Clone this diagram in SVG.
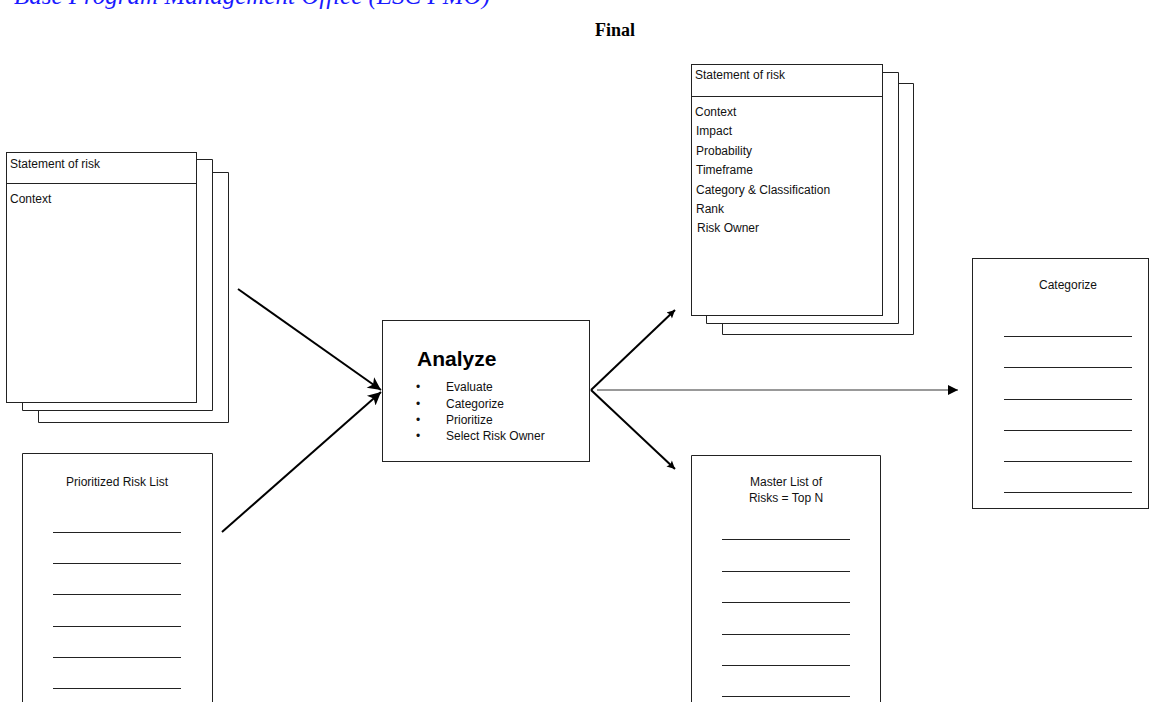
<svg xmlns="http://www.w3.org/2000/svg" width="1150" height="702" viewBox="0 0 1150 702">
  <style>
    .page { fill: #fff; stroke: #222; stroke-width: 1; }
    .rule { stroke: #222; stroke-width: 1; }
    .t { font-family: "Liberation Sans", Arial, sans-serif; font-size: 12px; fill: #111; }
    .mid { text-anchor: middle; }
    .conn { stroke: #000; stroke-width: 2; fill: none; }
    .conn-thin { stroke: #777; stroke-width: 1.5; fill: none; }
  </style>
  <defs>
    <marker id="headBig" viewBox="0 0 10 10" refX="10" refY="5" markerUnits="userSpaceOnUse" markerWidth="17" markerHeight="13" orient="auto">
      <path d="M0,0 L10,5 L0,10 L2.5,5 Z" fill="#000"/>
    </marker>
    <marker id="headSmall" viewBox="0 0 10 10" refX="10" refY="5" markerUnits="userSpaceOnUse" markerWidth="12" markerHeight="8" orient="auto">
      <path d="M0,0 L10,5 L0,10 L2,5 Z" fill="#000"/>
    </marker>
    <marker id="headFlat" viewBox="0 0 10 10" refX="10" refY="5" markerUnits="userSpaceOnUse" markerWidth="12" markerHeight="10" orient="auto">
      <path d="M0,0 L10,5 L0,10 Z" fill="#000"/>
    </marker>
  </defs>

  <rect width="1150" height="702" fill="#fff"/>

  <!-- page header -->
  <g id="header">
    <text x="490" y="4" text-anchor="end" font-family="'Liberation Serif', 'Times New Roman', serif" font-style="italic" font-size="25" fill="#1a1aff">Base Program Management Office (ESC PMO)</text>
    <text x="615" y="36" text-anchor="middle" font-family="'Liberation Serif', 'Times New Roman', serif" font-weight="bold" font-size="18" fill="#000">Final</text>
  </g>

  <!-- statement of risk (input), stacked pages -->
  <g id="risk-statement-in">
    <path class="page" d="M38.5,172.5 H228.5 V422.5 H38.5 Z"/>
    <path class="page" d="M22.5,159.5 H212.5 V410.5 H22.5 Z"/>
    <rect class="page" x="6.5" y="152.5" width="190" height="250"/>
    <line class="rule" x1="6.5" y1="183.5" x2="196.5" y2="183.5"/>
    <text class="t" x="10" y="168">Statement of risk</text>
    <text class="t" x="10" y="203">Context</text>
  </g>

  <!-- prioritized risk list -->
  <g id="prioritized-list">
    <path class="page" d="M22.5,702 V453.5 H212.5 V702"/>
    <text class="t mid" x="117" y="486">Prioritized Risk List</text>
    <g class="rule">
      <line x1="53" y1="532.5" x2="181" y2="532.5"/>
      <line x1="53" y1="563.5" x2="181" y2="563.5"/>
      <line x1="53" y1="594.5" x2="181" y2="594.5"/>
      <line x1="53" y1="626.5" x2="181" y2="626.5"/>
      <line x1="53" y1="657.5" x2="181" y2="657.5"/>
      <line x1="53" y1="688.5" x2="181" y2="688.5"/>
    </g>
  </g>

  <!-- analyze step -->
  <g id="analyze">
    <rect class="page" x="382.5" y="320.5" width="207" height="141"/>
    <text x="417" y="366" font-family="'Liberation Sans', Arial, sans-serif" font-weight="bold" font-size="21" fill="#000">Analyze</text>
    <g class="t">
      <text x="416" y="391">•</text>
      <text x="446" y="391">Evaluate</text>
      <text x="416" y="408">•</text>
      <text x="446" y="408">Categorize</text>
      <text x="416" y="424">•</text>
      <text x="446" y="424">Prioritize</text>
      <text x="416" y="440">•</text>
      <text x="446" y="440">Select Risk Owner</text>
    </g>
  </g>

  <!-- statement of risk (output), stacked pages -->
  <g id="risk-statement-out">
    <path class="page" d="M722.5,83.5 H913.5 V334.5 H722.5 Z"/>
    <path class="page" d="M706.5,72.5 H898.5 V323.5 H706.5 Z"/>
    <rect class="page" x="691.5" y="64.5" width="191" height="251"/>
    <line class="rule" x1="691.5" y1="96.5" x2="882.5" y2="96.5"/>
    <text class="t" x="695" y="79">Statement of risk</text>
    <text class="t" x="695" y="116">Context</text>
    <text class="t" x="696" y="135">Impact</text>
    <text class="t" x="696" y="155">Probability</text>
    <text class="t" x="696" y="174">Timeframe</text>
    <text class="t" x="696" y="194">Category &amp; Classification</text>
    <text class="t" x="696" y="213">Rank</text>
    <text class="t" x="697" y="232">Risk Owner</text>
  </g>

  <!-- master list of risks -->
  <g id="master-list">
    <path class="page" d="M691.5,702 V455.5 H880.5 V702"/>
    <text class="t mid" x="786" y="486">Master List of</text>
    <text class="t mid" x="786" y="502">Risks = Top N</text>
    <g class="rule">
      <line x1="722" y1="539.5" x2="850" y2="539.5"/>
      <line x1="722" y1="571.5" x2="850" y2="571.5"/>
      <line x1="722" y1="602.5" x2="850" y2="602.5"/>
      <line x1="722" y1="634.5" x2="850" y2="634.5"/>
      <line x1="722" y1="665.5" x2="850" y2="665.5"/>
      <line x1="722" y1="696.5" x2="850" y2="696.5"/>
    </g>
  </g>

  <!-- categorize sheet -->
  <g id="categorize">
    <rect class="page" x="972.5" y="258.5" width="176" height="250"/>
    <text class="t mid" x="1068" y="289">Categorize</text>
    <g class="rule">
      <line x1="1004" y1="336.5" x2="1132" y2="336.5"/>
      <line x1="1004" y1="367.5" x2="1132" y2="367.5"/>
      <line x1="1004" y1="399.5" x2="1132" y2="399.5"/>
      <line x1="1004" y1="430.5" x2="1132" y2="430.5"/>
      <line x1="1004" y1="461.5" x2="1132" y2="461.5"/>
      <line x1="1004" y1="492.5" x2="1132" y2="492.5"/>
    </g>
  </g>

  <!-- connectors -->
  <g id="connectors">
    <line class="conn" x1="238" y1="289" x2="381" y2="390" marker-end="url(#headBig)"/>
    <line class="conn" x1="222" y1="532" x2="381" y2="392" marker-end="url(#headBig)"/>
    <line class="conn" x1="591" y1="390" x2="675" y2="310" marker-end="url(#headSmall)"/>
    <line class="conn" x1="591" y1="390" x2="675" y2="469" marker-end="url(#headSmall)"/>
    <line class="conn-thin" x1="597" y1="390" x2="958" y2="390" marker-end="url(#headFlat)"/>
  </g>
</svg>
